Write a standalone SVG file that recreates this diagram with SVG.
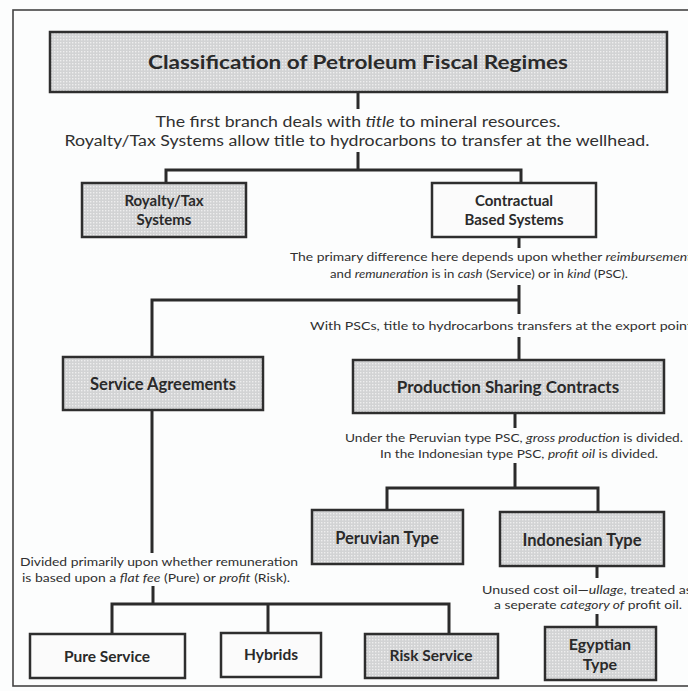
<svg xmlns="http://www.w3.org/2000/svg" width="688" height="691" viewBox="0 0 688 691">
  <defs>
    <!-- stippled grey screen used for the shaded boxes -->
    <pattern id="stipple" width="3" height="3" patternUnits="userSpaceOnUse">
      <rect width="3" height="3" fill="#d2d3d4"/>
      <rect x="0" y="0" width="1.4" height="1.4" fill="#eeeeee"/>
    </pattern>
    <style>
      .box { stroke: #2e2e2e; stroke-width: 2.5; }
      .shaded { fill: url(#stipple); }
      .plain { fill: #fbfbfb; }
      .lbl { font-family: Lato, "Open Sans", "Liberation Sans", sans-serif; font-weight: 700; fill: #2a2a2a; text-anchor: middle; }
      .note { font-family: Lato, "Open Sans", "Liberation Sans", sans-serif; fill: #303030; }
      .mid { text-anchor: middle; }
      .it { font-style: italic; }
      .wire { fill: none; stroke: #2b2b2b; stroke-width: 3; }
    </style>
  </defs>

  <rect width="688" height="691" fill="#fcfdfd"/>
  <!-- page frame -->
  <rect x="13" y="10" width="690" height="676" fill="none" stroke="#444" stroke-width="1.6"/>

  <!-- connectors -->
  <g id="connectors" class="wire">
    <path d="M358,92 V109"/>
    <path d="M358,152 V170 M166,183 V170 H521 V183"/>
    <path d="M519,237 V248"/>
    <path d="M519,285 V314 M519,300 H152 V357"/>
    <path d="M519,337 V360"/>
    <path d="M152,410 V553"/>
    <path d="M515,413 V428"/>
    <path d="M515,463 V488 M387,510 V488 H598 V512"/>
    <path d="M597,566 V578"/>
    <path d="M597,614 V627"/>
    <path d="M153,586 V604 M112,634 V604 H449 V634 M268,604 V633"/>
  </g>

  <!-- notes on the branches -->
  <g id="notes" class="note">
    <text class="mid" x="358" y="127" font-size="14.5" textLength="405" lengthAdjust="spacingAndGlyphs">The first branch deals with <tspan class="it">title</tspan> to mineral resources.</text>
    <text class="mid" x="357" y="146" font-size="14.5" textLength="585" lengthAdjust="spacingAndGlyphs">Royalty/Tax Systems allow title to hydrocarbons to transfer at the wellhead.</text>
    <text x="290" y="261" font-size="12" textLength="402" lengthAdjust="spacingAndGlyphs">The primary difference here depends upon whether <tspan class="it">reimbursement</tspan></text>
    <text x="330" y="278" font-size="12" textLength="298" lengthAdjust="spacingAndGlyphs">and <tspan class="it">remuneration</tspan> is in <tspan class="it">cash</tspan> (Service) or in <tspan class="it">kind</tspan> (PSC).</text>
    <text x="310" y="330" font-size="12" textLength="382" lengthAdjust="spacingAndGlyphs">With PSCs, title to hydrocarbons transfers at the export point</text>
    <text x="345" y="442" font-size="12" textLength="338" lengthAdjust="spacingAndGlyphs">Under the Peruvian type PSC, <tspan class="it">gross production</tspan> is divided.</text>
    <text x="380" y="458" font-size="12" textLength="278" lengthAdjust="spacingAndGlyphs">In the Indonesian type PSC, <tspan class="it">profit oil</tspan> is divided.</text>
    <text x="20" y="566" font-size="12" textLength="278" lengthAdjust="spacingAndGlyphs">Divided primarily upon whether remuneration</text>
    <text x="22" y="582" font-size="12" textLength="268" lengthAdjust="spacingAndGlyphs">is based upon a <tspan class="it">flat fee</tspan> (Pure) or <tspan class="it">profit</tspan> (Risk).</text>
    <text x="482" y="594" font-size="12" textLength="210" lengthAdjust="spacingAndGlyphs">Unused cost oil—<tspan class="it">ullage</tspan>, treated as</text>
    <text x="494" y="609" font-size="12" textLength="188" lengthAdjust="spacingAndGlyphs">a seperate <tspan class="it">category of</tspan> profit oil.</text>
  </g>

  <!-- nodes -->
  <g id="title">
    <rect class="box shaded" x="50" y="32" width="617" height="60"/>
    <text class="lbl" x="358" y="69" font-size="18" textLength="420" lengthAdjust="spacingAndGlyphs">Classification of Petroleum Fiscal Regimes</text>
  </g>
  <g id="royalty-tax">
    <rect class="box shaded" x="82" y="183" width="164" height="54"/>
    <text class="lbl" x="164" y="206" font-size="15">Royalty/Tax</text>
    <text class="lbl" x="164" y="225" font-size="15">Systems</text>
  </g>
  <g id="contractual">
    <rect class="box plain" x="432" y="183" width="164" height="54"/>
    <text class="lbl" x="514" y="206" font-size="15">Contractual</text>
    <text class="lbl" x="514" y="225" font-size="15">Based Systems</text>
  </g>
  <g id="service-agreements">
    <rect class="box shaded" x="63" y="357" width="200" height="53"/>
    <text class="lbl" x="163" y="390" font-size="16.5">Service Agreements</text>
  </g>
  <g id="psc">
    <rect class="box shaded" x="353" y="360" width="311" height="53"/>
    <text class="lbl" x="508" y="393" font-size="17">Production Sharing Contracts</text>
  </g>
  <g id="peruvian">
    <rect class="box shaded" x="312" y="510" width="151" height="54"/>
    <text class="lbl" x="387" y="544" font-size="16.5">Peruvian Type</text>
  </g>
  <g id="indonesian">
    <rect class="box shaded" x="500" y="512" width="164" height="54"/>
    <text class="lbl" x="582" y="546" font-size="16.5">Indonesian Type</text>
  </g>
  <g id="egyptian">
    <rect class="box shaded" x="545" y="627" width="111" height="53"/>
    <text class="lbl" x="600" y="650" font-size="16">Egyptian</text>
    <text class="lbl" x="600" y="670" font-size="16">Type</text>
  </g>
  <g id="pure-service">
    <rect class="box plain" x="30" y="634" width="155" height="44"/>
    <text class="lbl" x="107" y="662" font-size="15.5">Pure Service</text>
  </g>
  <g id="hybrids">
    <rect class="box plain" x="221" y="633" width="100" height="44"/>
    <text class="lbl" x="271" y="660" font-size="15.5">Hybrids</text>
  </g>
  <g id="risk-service">
    <rect class="box shaded" x="365" y="634" width="133" height="44"/>
    <text class="lbl" x="431" y="661" font-size="15.5">Risk Service</text>
  </g>
</svg>
